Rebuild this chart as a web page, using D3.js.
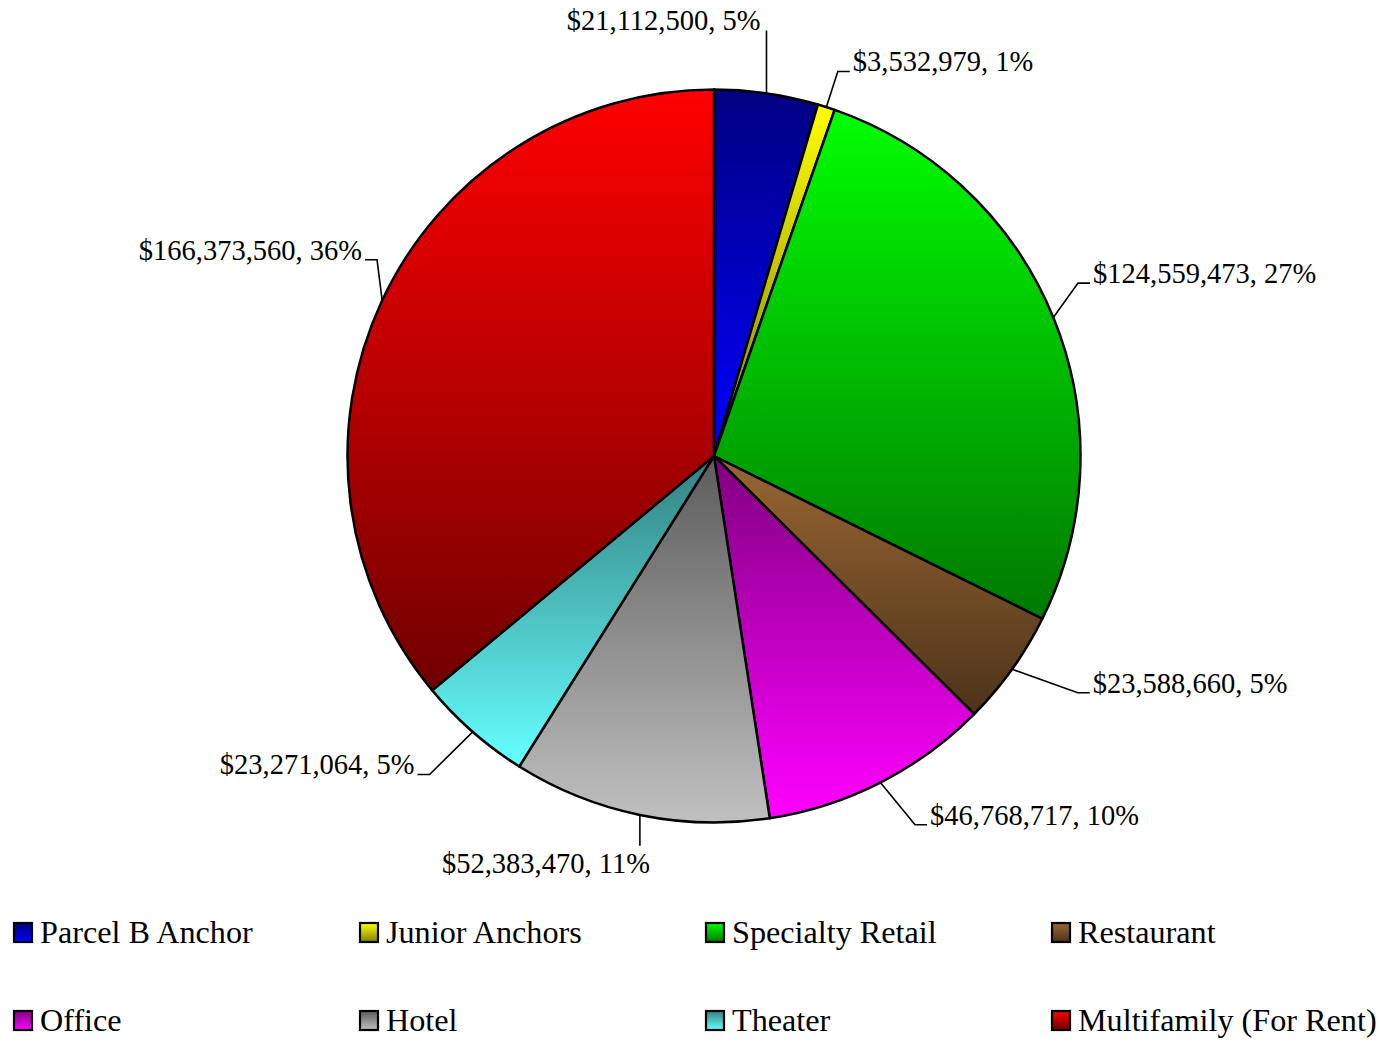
<!DOCTYPE html>
<html>
<head>
<meta charset="utf-8">
<script src="https://cdn.jsdelivr.net/npm/d3@7/dist/d3.min.js"></script>
<style>
  html, body { margin: 0; padding: 0; background: #ffffff; }
  svg { display: block; }
  text { font-family: "Liberation Serif", "Times New Roman", serif; fill: #000; }
</style>
</head>
<body>
<div id="wrapper"></div>
<script>
// categories and values
var categories = ['Parcel B Anchor', 'Junior Anchors', 'Specialty Retail', 'Restaurant',
                  'Office', 'Hotel', 'Theater', 'Multifamily (For Rent)'];
var values = [21112500, 3532979, 124559473, 23588660, 46768717, 52383470, 23271064, 166373560];

// gradient top / bottom colors per slice
var colTop    = ['#000080', '#ffff00', '#00ff00', '#996633', '#800080', '#5c5c5c', '#338080', '#ff0000'];
var colBottom = ['#0000ff', '#808000', '#007800', '#4c3319', '#ff00ff', '#c0c0c0', '#66ffff', '#700000'];

// leader line elbows: distance from centre and angle shift (deg) from slice middle
var labelReach = [430, 404, 403, 434, 420, 398, 427, 390];
var labelTurn  = [0, 0, -3.2, -2.5, -1.6, 0, 0.6, 5.1];

var W = 1384, H = 1045;
var cx = 714, cy = 456, r = 366.5;

var svg = d3.select('#wrapper').append('svg')
    .attr('width', W).attr('height', H);

var defs = svg.append('defs');
categories.forEach(function (c, i) {
    var g = defs.append('linearGradient')
        .attr('id', 'grad' + i)
        .attr('x1', 0).attr('y1', 0).attr('x2', 0).attr('y2', 1);
    g.append('stop').attr('offset', '0%').attr('stop-color', colTop[i]);
    g.append('stop').attr('offset', '100%').attr('stop-color', colBottom[i]);
});

var total = d3.sum(values);
var pie = d3.pie().sort(null).value(function (d) { return d; });
var arcs = pie(values);
var arc = d3.arc().innerRadius(0).outerRadius(r);

var gPie = svg.append('g').attr('transform', 'translate(' + cx + ',' + cy + ')');

gPie.selectAll('path.slice')
    .data(arcs)
  .enter().append('path')
    .attr('class', 'slice')
    .attr('d', arc)
    .attr('fill', function (d, i) { return 'url(#grad' + i + ')'; })
    .attr('stroke', '#000')
    .attr('stroke-width', 2.5)
    .attr('stroke-linejoin', 'round');

// labels with leader lines
var fmt = d3.format(',');
function labelText(v) {
    return '$' + fmt(v) + ', ' + Math.round(v / total * 100) + '%';
}

arcs.forEach(function (d, i) {
    var a = (d.startAngle + d.endAngle) / 2;
    var s = Math.sin(a), c = Math.cos(a);
    var x0 = r * s, y0 = -r * c;
    var R = labelReach[i];
    var b = a + labelTurn[i] * Math.PI / 180;
    var pts, tx, ty, anchor;
    if (Math.abs(s) < 0.25) {
        // near top or bottom: straight vertical leader
        var y1 = -R * c;
        pts = [[x0, y0], [x0, y1]];
        if (c > 0) { tx = x0 - 6; ty = y1; anchor = 'end'; }
        else { tx = x0 + 10; ty = y1 + 27; anchor = 'end'; }
    } else {
        var x1 = R * Math.sin(b), yy = -R * Math.cos(b);
        var dir = s > 0 ? 1 : -1;
        pts = [[x0, y0], [x1, yy], [x1 + dir * 12, yy]];
        tx = x1 + dir * 15; ty = yy; anchor = s > 0 ? 'start' : 'end';
    }
    gPie.append('path')
        .attr('d', d3.line()(pts))
        .attr('fill', 'none')
        .attr('stroke', '#000')
        .attr('stroke-width', 1.6);
    gPie.append('text')
        .attr('x', tx).attr('y', ty)
        .attr('text-anchor', anchor)
        .style('font-size', '28.5px')
        .text(labelText(values[i]));
});

// legend, 4 columns x 2 rows
var legend = svg.append('g');
var lg = legend.selectAll('g.item')
    .data(categories)
  .enter().append('g')
    .attr('class', 'item')
    .attr('transform', function (d, i) {
        return 'translate(' + (14 + (i % 4) * 346) + ',' + (923 + Math.floor(i / 4) * 88) + ')';
    });

lg.append('rect')
    .attr('width', 18).attr('height', 19)
    .attr('fill', function (d, i) { return 'url(#grad' + i + ')'; })
    .attr('stroke', '#000')
    .attr('stroke-width', 2.2);

lg.append('text')
    .attr('x', 26).attr('y', 20)
    .style('font-size', '32.2px')
    .text(function (d) { return d; });
</script>
</body>
</html>
